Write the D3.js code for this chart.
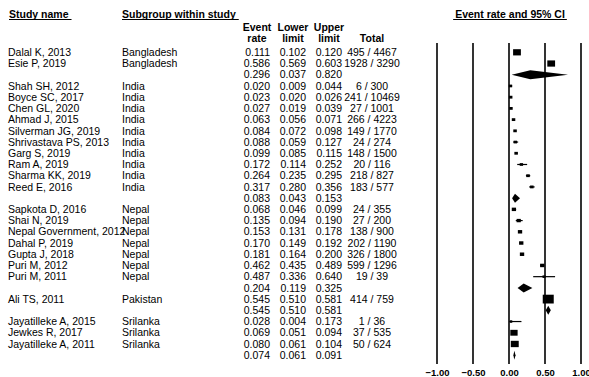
<!DOCTYPE html>
<html>
<head>
<meta charset="utf-8">
<script src="https://cdn.jsdelivr.net/npm/d3@7"></script>
<style>
  html, body { margin: 0; padding: 0; background: #fff; }
  svg { display: block; font-family: "Liberation Sans", Arial, sans-serif; }
</style>
</head>
<body>
<svg id="chart" width="589" height="377"></svg>
<script>
// Forest plot rows: individual studies and pooled subgroup estimates ("" name = pooled row)
const studyNames = [
  "Dalal K, 2013", "Esie P, 2019", "",
  "Shah SH, 2012", "Boyce SC, 2017", "Chen GL, 2020", "Ahmad J, 2015", "Silverman JG, 2019",
  "Shrivastava PS, 2013", "Garg S, 2019", "Ram A, 2019", "Sharma KK, 2019", "Reed E, 2016", "",
  "Sapkota D, 2016", "Shai N, 2019", "Nepal Government, 2012", "Dahal P, 2019", "Gupta J, 2018",
  "Puri M, 2012", "Puri M, 2011", "",
  "Ali TS, 2011", "",
  "Jayatilleke A, 2015", "Jewkes R, 2017", "Jayatilleke A, 2011", ""
];
const subgroups = [
  "Bangladesh", "Bangladesh", "",
  "India", "India", "India", "India", "India", "India", "India", "India", "India", "India", "",
  "Nepal", "Nepal", "Nepal", "Nepal", "Nepal", "Nepal", "Nepal", "",
  "Pakistan", "",
  "Srilanka", "Srilanka", "Srilanka", ""
];
const eventRates = [
  0.111, 0.586, 0.296,
  0.020, 0.023, 0.027, 0.063, 0.084, 0.088, 0.099, 0.172, 0.264, 0.317, 0.083,
  0.068, 0.135, 0.153, 0.170, 0.181, 0.462, 0.487, 0.204,
  0.545, 0.545,
  0.028, 0.069, 0.080, 0.074
];
const lowerLimits = [
  0.102, 0.569, 0.037,
  0.009, 0.020, 0.019, 0.056, 0.072, 0.059, 0.085, 0.114, 0.235, 0.280, 0.043,
  0.046, 0.094, 0.131, 0.149, 0.164, 0.435, 0.336, 0.119,
  0.510, 0.510,
  0.004, 0.051, 0.061, 0.061
];
const upperLimits = [
  0.120, 0.603, 0.820,
  0.044, 0.026, 0.039, 0.071, 0.098, 0.127, 0.115, 0.252, 0.295, 0.356, 0.153,
  0.099, 0.190, 0.178, 0.192, 0.200, 0.489, 0.640, 0.325,
  0.581, 0.581,
  0.173, 0.094, 0.104, 0.091
];
const totals = [
  "495 / 4467", "1928 / 3290", "",
  "6 / 300", "241 / 10469", "27 / 1001", "266 / 4223", "149 / 1770", "24 / 274",
  "148 / 1500", "20 / 116", "218 / 827", "183 / 577", "",
  "24 / 355", "27 / 200", "138 / 900", "202 / 1190", "326 / 1800", "599 / 1296", "19 / 39", "",
  "414 / 759", "",
  "1 / 36", "37 / 535", "50 / 624", ""
];
// Relative weight (%) of each study within its subgroup
const weights = [
  50.1, 49.9, 0,
  9.5, 10.3, 10.1, 10.2, 10.2, 9.6, 10.2, 9.4, 10.3, 10.2, 0,
  15.2, 14.6, 15.4, 15.5, 15.6, 15.6, 8.1, 0,
  100, 0,
  4, 44, 52, 0
];
const axisTicks = [-1, -0.5, 0, 0.5, 1];

const rows = studyNames.map((name, i) => ({
  name, sub: subgroups[i], rate: eventRates[i], lo: lowerLimits[i], hi: upperLimits[i],
  total: totals[i], weight: weights[i], pooled: name === ""
}));

const svg = d3.select("#chart");
const fs = 10.5;

const x = d3.scaleLinear().domain([-1, 1]).range([437, 581]);
const y = d3.scaleBand().domain(d3.range(rows.length)).range([46.7, 360.8]);
const yc = i => y(i) + y.bandwidth() / 2;
const boxSize = d3.scaleSqrt().domain([0, 100]).range([0, 11]);

// Column headers
const hdr = svg.append("g").attr("font-weight", "bold").attr("font-size", fs).attr("fill", "#000");
function underlined(txt, x0, yb, extra) {
  const t = hdr.append("text").attr("x", x0).attr("y", yb).text(txt);
  const w = t.node().getComputedTextLength();
  hdr.append("line").attr("x1", x0).attr("x2", x0 + w + extra)
    .attr("y1", yb + 2).attr("y2", yb + 2).attr("stroke", "#000").attr("stroke-width", 1);
}
underlined("Study name", 9, 17.5, 3);
underlined("Subgroup within study", 122, 17.5, 3);
{
  const t = hdr.append("text").attr("x", 510).attr("y", 17.5).attr("text-anchor", "middle")
    .text("Event rate and 95% CI");
  const w = t.node().getComputedTextLength();
  hdr.append("line").attr("x1", 510 - w / 2 - 2).attr("x2", 510 + w / 2 + 2)
    .attr("y1", 19.5).attr("y2", 19.5).attr("stroke", "#000").attr("stroke-width", 1);
}
const colHeads = [
  { c: 257, l1: "Event", l2: "rate" },
  { c: 293, l1: "Lower", l2: "limit" },
  { c: 329, l1: "Upper", l2: "limit" },
  { c: 372, l1: "", l2: "Total" }
];
colHeads.forEach(h => {
  hdr.append("text").attr("x", h.c).attr("y", 30.5).attr("text-anchor", "middle").text(h.l1);
  hdr.append("text").attr("x", h.c).attr("y", 42).attr("text-anchor", "middle").text(h.l2);
});

// Table body
const fmt = d3.format(".3f");
const body = svg.append("g").attr("font-size", fs).attr("fill", "#000");
const rowG = body.selectAll("g.row").data(rows).join("g")
  .attr("class", "row")
  .attr("transform", (d, i) => `translate(0,${yc(i) + 3.7})`);
rowG.append("text").attr("x", 8).text(d => d.name);
rowG.append("text").attr("x", 122).text(d => d.sub);
rowG.append("text").attr("x", 270).attr("text-anchor", "end").text(d => fmt(d.rate));
rowG.append("text").attr("x", 306).attr("text-anchor", "end").text(d => fmt(d.lo));
rowG.append("text").attr("x", 342).attr("text-anchor", "end").text(d => fmt(d.hi));
rowG.append("text").attr("x", 372).attr("text-anchor", "middle").text(d => d.total);

// Reference lines at each tick
const plot = svg.append("g");
plot.selectAll("line.ref").data(axisTicks).join("line")
  .attr("class", "ref")
  .attr("x1", d => x(d)).attr("x2", d => x(d))
  .attr("y1", 43).attr("y2", 364)
  .attr("stroke", "#000").attr("stroke-width", 1.6);

// Axis labels
const axis = d3.axisBottom(x).tickValues(axisTicks).tickFormat(d3.format(".2f")).tickSize(0).tickPadding(0);
const ax = svg.append("g").attr("transform", "translate(0,369)").call(axis);
ax.select(".domain").remove();
ax.selectAll("text").attr("font-size", 9.5).attr("font-weight", "bold")
  .attr("font-family", "Liberation Sans, Arial, sans-serif").attr("fill", "#000");

// Study markers: CI whisker + weighted box
const studies = rows.map((d, i) => ({ ...d, i })).filter(d => !d.pooled);
plot.selectAll("line.ci").data(studies).join("line")
  .attr("class", "ci")
  .attr("x1", d => x(d.lo)).attr("x2", d => x(d.hi))
  .attr("y1", d => yc(d.i)).attr("y2", d => yc(d.i))
  .attr("stroke", "#000").attr("stroke-width", 1.2);
plot.selectAll("rect.box").data(studies).join("rect")
  .attr("class", "box")
  .attr("x", d => x(d.rate) - Math.max(boxSize(d.weight), 2.5) / 2)
  .attr("y", d => yc(d.i) - Math.max(boxSize(d.weight) * 0.8, 2.5) / 2)
  .attr("width", d => Math.max(boxSize(d.weight), 2.5))
  .attr("height", d => Math.max(boxSize(d.weight) * 0.8, 2.5))
  .attr("fill", "#000");

// Pooled subgroup estimates as diamonds
const pooled = rows.map((d, i) => ({ ...d, i })).filter(d => d.pooled);
plot.selectAll("path.diamond").data(pooled).join("path")
  .attr("class", "diamond")
  .attr("d", d => {
    const c = yc(d.i), h = 4.5;
    return `M${x(d.lo)},${c}L${x(d.rate)},${c - h}L${x(d.hi)},${c}L${x(d.rate)},${c + h}Z`;
  })
  .attr("fill", "#000");
</script>
</body>
</html>
